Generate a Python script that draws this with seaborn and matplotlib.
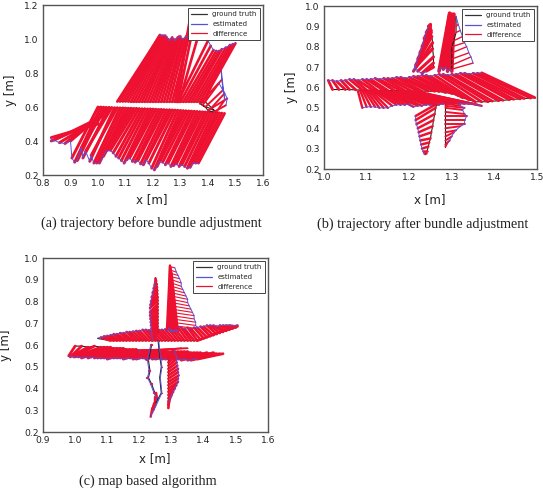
import matplotlib
matplotlib.use('Agg')
import matplotlib.pyplot as plt
from matplotlib.transforms import ScaledTranslation
import pandas as pd
import seaborn as sns

W, H = 543, 490
RED = '#ee1030'
BLUE = '#5a50d8'

# panel (a): wing + lower block, right cluster, upper block
a_gt_x = [1.00, 1.00, 1.01, 1.02, 1.02, 1.03,
          1.00, 1.01, 1.02, 1.03, 1.04, 1.05, 1.06, 1.07, 1.08, 1.09,
          1.10, 1.11, 1.12, 1.13, 1.14, 1.15, 1.16, 1.17, 1.18, 1.19,
          1.20, 1.21, 1.22, 1.23, 1.24, 1.25, 1.26, 1.27, 1.28, 1.29,
          1.30, 1.31, 1.32, 1.33, 1.34, 1.35, 1.36, 1.37, 1.38, 1.39,
          1.40, 1.41, 1.42, 1.43, 1.44, 1.45, 1.46,
          1.42, 1.40, 1.39, 1.37, 1.39, 1.43, 1.41, 1.38,
          1.38, 1.37, 1.36, 1.35, 1.34, 1.33, 1.32, 1.31, 1.30, 1.29,
          1.295, 1.29, 1.285, 1.28, 1.27, 1.26, 1.25, 1.24, 1.23, 1.22,
          1.21, 1.20, 1.19, 1.18, 1.17, 1.16, 1.15, 1.14, 1.13, 1.12,
          1.11, 1.10, 1.09, 1.08, 1.07]
a_gt_y = [.50, .52, .54, .55, .57, .58,
          .600, .600, .599, .598, .598, .597, .596, .596, .595, .595,
          .594, .593, .593, .592, .592, .591, .590, .590, .589, .589,
          .588, .587, .586, .586, .585, .584, .584, .583, .582, .581,
          .580, .579, .578, .577, .576, .575, .574, .573, .572, .571,
          .570, .569, .568, .567, .566, .564, .562,
          .57, .58, .60, .62, .63, .57, .59, .61,
          .63, .63, .63, .63, .63, .63, .63, .63, .63, .63,
          .63, .63, .63, .63, .63, .63, .63, .63, .63, .63,
          .63, .63, .63, .63, .63, .63, .63, .63, .63, .63,
          .632, .632, .632, .632, .632]
a_est_x = [.83, .83, .84, .86, .88, .90,
           .905, .915, .925, .94, .945, .955, .97, .975, .985, .995,
           1.005, 1.02, 1.025, 1.035, 1.045, 1.055, 1.065, 1.075, 1.085, 1.095,
           1.105, 1.115, 1.125, 1.135, 1.145, 1.155, 1.165, 1.175, 1.185, 1.195,
           1.205, 1.215, 1.225, 1.235, 1.245, 1.255, 1.265, 1.275, 1.285, 1.295,
           1.305, 1.315, 1.325, 1.335, 1.345, 1.355, 1.365,
           1.465, 1.47, 1.455, 1.45, 1.445, 1.46, 1.46, 1.44,
           1.50, 1.49, 1.48, 1.465, 1.45, 1.44, 1.43, 1.42, 1.41, 1.40,
           1.37, 1.35, 1.34, 1.335, 1.33, 1.32, 1.31, 1.305, 1.30, 1.295,
           1.29, 1.285, 1.28, 1.275, 1.27, 1.265, 1.26, 1.255, 1.25, 1.245,
           1.24, 1.235, 1.23, 1.225, 1.225]
a_est_y = [.42, .40, .405, .39, .385, .40,
           .30, .275, .285, .36, .30, .34, .28, .315, .27, .27,
           .27, .31, .33, .345, .345, .33, .31, .30, .285, .27,
           .29, .30, .28, .275, .285, .265, .26, .29, .27, .24,
           .23, .25, .28, .275, .26, .27, .25, .255, .265, .25,
           .26, .25, .24, .245, .27, .27, .27,
           .61, .65, .70, .76, .87, .64, .68, .74,
           .975, .97, .965, .95, .94, .93, .93, .935, .96, .99,
           1.05, 1.10, 1.15, 1.12, 1.01, 1.015, 1.00, 1.00, 1.015, 1.015,
           1.01, 1.00, .99, 1.00, 1.01, 1.00, .99, 1.00, 1.01, 1.02,
           1.02, 1.02, 1.02, 1.024, 1.02]
a_sections = [(53, 2.1), (8, 1.4), (35, 1.9)]

# panel (b): top of band, bottom of band, then the four spikes
b_gt_x = [1.02, 1.035, 1.05, 1.06, 1.075, 1.09, 1.10, 1.115, 1.125, 1.14,
          1.15, 1.165, 1.18, 1.19, 1.205, 1.22, 1.23, 1.245, 1.26, 1.27,
          1.285, 1.30, 1.315, 1.325, 1.34, 1.355, 1.37, 1.385, 1.395, 1.41,
          1.42, 1.435, 1.445, 1.46, 1.47, 1.485, 1.495,
          1.08, 1.085, 1.09, 1.095, 1.10, 1.105, 1.11, 1.115, 1.12, 1.125,
          1.13, 1.135, 1.14, 1.145, 1.15, 1.155, 1.16, 1.165, 1.17, 1.175,
          1.18, 1.185, 1.19, 1.195, 1.20, 1.205, 1.21, 1.215, 1.22,
          1.25, 1.25, 1.25, 1.25, 1.252, 1.252, 1.253, 1.255, 1.255, 1.257, 1.257, 1.257,
          1.295, 1.295, 1.295, 1.30, 1.30, 1.305, 1.305, 1.31, 1.31, 1.31, 1.305, 1.30, 1.30, 1.30, 1.30, 1.30,
          1.265, 1.262, 1.26, 1.257, 1.255, 1.252, 1.25, 1.247, 1.245, 1.242, 1.24, 1.238,
          1.285, 1.285, 1.285, 1.285, 1.285, 1.285, 1.285, 1.285, 1.285, 1.285, 1.285, 1.285, 1.285, 1.285]
b_gt_y = [.59, .59, .59, .59, .588, .588, .587, .587, .586, .586,
          .585, .585, .584, .584, .583, .583, .582, .582, .581, .58,
          .575, .57, .56, .55, .54, .53, .53, .53, .533, .535,
          .537, .54, .542, .544, .546, .548, .55,
          .58, .585, .585, .585, .585, .585, .585, .584, .584, .584,
          .584, .583, .583, .582, .582, .581, .581, .58, .58, .58,
          .58, .58, .58, .58, .58, .58, .58, .58, .58,
          .91, .905, .90, .89, .88, .87, .85, .82, .79, .75, .72, .70,
          .965, .96, .95, .94, .96, .96, .94, .95, .90, .87, .83, .80, .77, .74, .71, .69,
          .52, .50, .47, .44, .41, .38, .35, .33, .31, .29, .28, .27,
          .31, .32, .34, .36, .38, .40, .42, .44, .46, .48, .50, .51, .52, .53]
b_est_x = [1.01, 1.02, 1.03, 1.04, 1.05, 1.06, 1.07, 1.08, 1.09, 1.10,
           1.11, 1.12, 1.13, 1.14, 1.15, 1.16, 1.17, 1.18, 1.19, 1.20,
           1.21, 1.22, 1.23, 1.24, 1.25, 1.26, 1.27, 1.28, 1.29, 1.30,
           1.31, 1.32, 1.33, 1.34, 1.35, 1.36, 1.37,
           1.09, 1.10, 1.11, 1.12, 1.13, 1.14, 1.15, 1.16, 1.17, 1.18,
           1.19, 1.20, 1.21, 1.22, 1.23, 1.24, 1.25, 1.26, 1.27, 1.28,
           1.29, 1.30, 1.31, 1.32, 1.33, 1.34, 1.35, 1.36, 1.37,
           1.245, 1.24, 1.235, 1.23, 1.225, 1.22, 1.215, 1.21, 1.215, 1.22, 1.23, 1.24,
           1.27, 1.275, 1.28, 1.285, 1.29, 1.295, 1.30, 1.31, 1.315, 1.32, 1.325, 1.33, 1.335, 1.34, 1.345, 1.35,
           1.215, 1.215, 1.217, 1.22, 1.222, 1.224, 1.226, 1.228, 1.23, 1.232, 1.234, 1.236,
           1.29, 1.295, 1.30, 1.305, 1.31, 1.32, 1.33, 1.33, 1.335, 1.33, 1.325, 1.33, 1.32, 1.315]
b_est_y = [.635, .635, .63, .635, .635, .64, .64, .635, .64, .64,
           .64, .645, .64, .645, .645, .645, .65, .65, .645, .65,
           .655, .655, .66, .66, .655, .66, .665, .665, .66, .665,
           .665, .67, .67, .665, .67, .67, .672,
           .50, .505, .505, .505, .50, .50, .50, .51, .515, .515,
           .515, .52, .505, .51, .51, .515, .515, .513, .515, .52,
           .52, .52, .525, .52, .52, .52, .52, .515, .51,
           .90, .87, .84, .80, .77, .74, .71, .68, .70, .68, .67, .68,
           .68, .70, .69, .70, .68, .69, .68, .95, .91, .88, .85, .82, .80, .77, .75, .72,
           .46, .44, .42, .40, .38, .36, .34, .32, .30, .29, .28, .27,
           .33, .34, .36, .38, .39, .41, .42, .44, .46, .47, .49, .50, .51, .52]
b_sections = [(37, 2.0), (29, 1.7), (12, 2.2), (7, 2.6), (9, 1.0), (12, 1.8), (14, 1.4)]

# panel (c): lower wedge, thin spike, upper wedge, left arm, its thin part, right arm
c_gt_x = [1.00, 1.02, 1.04, 1.06, 1.08, 1.09, 1.10, 1.11, 1.12, 1.13, 1.14,
          1.15, 1.16, 1.17, 1.18, 1.19, 1.20, 1.21, 1.22, 1.23, 1.24, 1.25,
          1.26, 1.27, 1.28, 1.29, 1.30, 1.31, 1.32, 1.33, 1.34, 1.35, 1.36,
          1.37, 1.38, 1.39, 1.40, 1.41, 1.42, 1.43, 1.44, 1.45, 1.46,
          1.35, 1.33, 1.30,
          1.07, 1.11, 1.12, 1.13, 1.14, 1.15, 1.16, 1.17, 1.18, 1.19, 1.20, 1.21,
          1.22, 1.23, 1.24, 1.25, 1.26, 1.27, 1.28, 1.29, 1.30, 1.31, 1.32, 1.33,
          1.34, 1.35, 1.36, 1.37, 1.38, 1.39, 1.40, 1.41, 1.42, 1.43, 1.44, 1.45,
          1.46, 1.47, 1.48, 1.49, 1.50, 1.50, 1.505, 1.38,
          1.25, 1.252, 1.254, 1.255, 1.256, 1.256, 1.257, 1.257, 1.257, 1.257,
          1.257, 1.257, 1.257, 1.257, 1.257, 1.257, 1.257, 1.257,
          1.238, 1.228, 1.233, 1.228, 1.238, 1.248, 1.252, 1.25, 1.245, 1.24,
          1.25, 1.268, 1.263, 1.268, 1.263, 1.258,
          1.295, 1.295, 1.295, 1.295, 1.30, 1.30, 1.30, 1.30, 1.30, 1.30,
          1.30, 1.30, 1.30, 1.30, 1.30, 1.30, 1.30, 1.30, 1.30,
          1.295, 1.295, 1.296, 1.296, 1.297, 1.297, 1.298, 1.298, 1.30, 1.30,
          1.29, 1.29, 1.29, 1.29, 1.29, 1.29, 1.29, 1.29, 1.29, 1.29, 1.29,
          1.29, 1.29, 1.29, 1.29, 1.29, 1.29]
c_gt_y = [.595, .595, .59, .595, .59, .59, .59, .59, .585, .585, .585,
          .585, .58, .58, .58, .58, .575, .575, .575, .575, .575, .575,
          .575, .575, .575, .57, .57, .57, .57, .57, .57, .57, .565,
          .565, .565, .565, .56, .565, .56, .565, .56, .56, .56,
          .585, .585, .58,
          .63, .62, .62, .62, .62, .62, .62, .62, .62, .62, .62, .62,
          .62, .62, .62, .62, .62, .62, .62, .62, .62, .62, .62, .62,
          .62, .62, .62, .62, .62, .625, .63, .635, .64, .645, .65, .655,
          .66, .665, .67, .675, .68, .685, .688, .62,
          .91, .895, .88, .865, .85, .835, .82, .805, .79, .775,
          .76, .745, .73, .715, .70, .685, .67, .655,
          .60, .53, .48, .45, .42, .38, .38, .36, .33, .31,
          .33, .38, .45, .50, .55, .62,
          .96, .945, .93, .915, .90, .885, .87, .855, .84, .825,
          .81, .795, .78, .765, .75, .735, .72, .705, .69,
          .965, .965, .96, .96, .95, .95, .94, .94, .93, .93,
          .31, .325, .34, .355, .37, .385, .40, .415, .43, .445, .46,
          .475, .49, .505, .52, .535, .55]
c_est_x = [.98, .985, .99, .995, 1.00, 1.01, 1.02, 1.03, 1.04, 1.05, 1.06,
           1.07, 1.08, 1.09, 1.10, 1.11, 1.12, 1.13, 1.14, 1.15, 1.16, 1.17,
           1.18, 1.19, 1.20, 1.21, 1.22, 1.23, 1.24, 1.25, 1.26, 1.27, 1.28,
           1.29, 1.30, 1.31, 1.32, 1.33, 1.34, 1.35, 1.36, 1.37, 1.38,
           1.20, 1.20, 1.20,
           1.07, 1.08, 1.09, 1.10, 1.11, 1.12, 1.13, 1.14, 1.15, 1.16, 1.17, 1.18,
           1.19, 1.20, 1.21, 1.22, 1.23, 1.24, 1.25, 1.26, 1.27, 1.28, 1.29, 1.30,
           1.31, 1.32, 1.33, 1.34, 1.35, 1.36, 1.37, 1.38, 1.39, 1.40, 1.41, 1.42,
           1.43, 1.44, 1.45, 1.46, 1.47, 1.48, 1.49, 1.505,
           1.25, 1.247, 1.244, 1.241, 1.238, 1.236, 1.234, 1.233, 1.233, 1.233,
           1.234, 1.235, 1.236, 1.237, 1.238, 1.239, 1.24, 1.24,
           1.235, 1.225, 1.23, 1.225, 1.235, 1.245, 1.255, 1.25, 1.24, 1.235,
           1.245, 1.27, 1.265, 1.27, 1.265, 1.26,
           1.31, 1.315, 1.32, 1.325, 1.33, 1.33, 1.335, 1.34, 1.345, 1.35,
           1.35, 1.355, 1.36, 1.365, 1.37, 1.37, 1.375, 1.375, 1.38,
           1.285, 1.29, 1.293, 1.297, 1.30, 1.304, 1.308, 1.312, 1.316, 1.32,
           1.292, 1.295, 1.30, 1.305, 1.31, 1.315, 1.32, 1.32, 1.322, 1.32, 1.32,
           1.318, 1.316, 1.315, 1.315, 1.31, 1.31]
c_est_y = [.55, .545, .55, .545, .545, .545, .54, .545, .54, .545, .54,
           .54, .54, .54, .535, .54, .54, .54, .54, .535, .54, .54,
           .535, .535, .54, .54, .535, .54, .535, .535, .54, .535, .535,
           .535, .54, .535, .535, .53, .535, .53, .53, .535, .535,
           .575, .57, .575,
           .632, .635, .64, .642, .645, .65, .65, .655, .655, .66, .66, .662,
           .665, .665, .67, .67, .668, .67, .672, .67, .67, .672, .675, .675,
           .675, .68, .68, .675, .68, .675, .68, .68, .685, .685, .69, .69,
           .69, .685, .69, .69, .69, .69, .688, .69,
           .89, .875, .86, .84, .82, .80, .785, .77, .75, .735,
           .72, .705, .69, .675, .66, .645, .63, .62,
           .60, .53, .48, .45, .42, .38, .35, .32, .29, .27,
           .30, .38, .45, .50, .55, .62,
           .955, .935, .92, .905, .885, .87, .855, .84, .825, .81,
           .795, .78, .765, .75, .735, .72, .705, .69, .675,
           .66, .67, .68, .66, .67, .66, .67, .66, .67, .66,
           .34, .355, .37, .385, .40, .415, .43, .445, .46, .475, .49,
           .505, .52, .535, .55, .565, .58]
c_sections = [(43, 2.0), (3, 1.2), (44, 1.9), (18, 1.9), (10, 1.7), (6, 0.9), (19, 0.8), (10, 1.6), (17, 1.9)]

legend_labels = ['ground truth', 'estimated', 'difference']


def draw_panel(box, gt_x, gt_y, est_x, est_y, sections, xlim, ylim, xticks, yticks,
               caption, caption_x, caption_y, xlabel_pos, ylabel_x):
    left, top, right, bottom = box
    fig = plt.gcf()
    ax = fig.add_axes([left / W, 1 - bottom / H, (right - left) / W, (bottom - top) / H])

    # drawn section by section so the paths do not jump across the plot
    start = 0
    for n, lw in sections:
        i = range(start, start + n)
        sns.lineplot(x=[gt_x[k] for k in i], y=[gt_y[k] for k in i], sort=False, estimator=None,
                     color='#222222', lw=0.8, ax=ax)
        # each difference segment joins a ground truth point to its estimate
        diff = pd.DataFrame({'seg': list(i) * 2,
                             'x': [gt_x[k] for k in i] + [est_x[k] for k in i],
                             'y': [gt_y[k] for k in i] + [est_y[k] for k in i]})
        sns.lineplot(data=diff, x='x', y='y', units='seg', sort=False, estimator=None, color=RED, lw=lw, ax=ax)
        sns.lineplot(x=[est_x[k] for k in i], y=[est_y[k] for k in i], sort=False, estimator=None,
                     color=BLUE, lw=0.7, ax=ax)
        start += n

    ax.set_xlim(*xlim)
    ax.set_ylim(*ylim)
    ax.set_xticks(xticks)
    ax.set_yticks(yticks)
    ax.set_xticklabels(['%.1f' % t for t in xticks])
    ax.set_yticklabels(['%.1f' % t for t in yticks])
    ax.tick_params(direction='in', length=2.5, width=0.6, labelsize=6.6, pad=3, color='#444444', labelcolor='#222222')
    ax.set_xlabel('')
    ax.set_ylabel('y [m]', fontsize=8.6, color='#222222')
    # label coords give the right edge of the rotated text
    ax.yaxis.set_label_coords((ylabel_x + 5 - left) / (right - left), 0.5)
    for s in ax.spines.values():
        s.set_color('#555555')
        s.set_linewidth(1.0)

    handles = [plt.Line2D([], [], color=c, lw=0.9) for c in ['#333333', BLUE, RED]]
    leg = ax.legend(handles, legend_labels, loc='upper right', fontsize=5.0, frameon=True, fancybox=False,
                    edgecolor='#444444', framealpha=1, borderaxespad=0.5, labelspacing=0.55, handlelength=2.3)
    leg.get_frame().set_linewidth(0.7)
    leg.set_zorder(10)

    fig.text(xlabel_pos[0] / W, 1 - xlabel_pos[1] / H, 'x [m]', fontsize=8.6, ha='center', va='center', color='#222222')
    fig.text(caption_x / W, 1 - caption_y / H, caption, fontsize=10.2, ha='center', va='center',
             family='Liberation Serif', color='#222222')
    return ax


sns.set_style('white')
fig = plt.figure(figsize=(W / 100, H / 100), dpi=100)

draw_panel((43, 5, 263, 175), a_gt_x, a_gt_y, a_est_x, a_est_y, a_sections, (0.8, 1.6), (0.2, 1.2),
           [.8, .9, 1.0, 1.1, 1.2, 1.3, 1.4, 1.5, 1.6], [.2, .4, .6, .8, 1.0, 1.2],
           '(a) trajectory before bundle adjustment', 151, 223, (152, 200), 12)
ax_b = draw_panel((324, 6, 537, 169), b_gt_x, b_gt_y, b_est_x, b_est_y, b_sections, (1.0, 1.5), (0.2, 1.0),
                  [1.0, 1.1, 1.2, 1.3, 1.4, 1.5], [.2, .3, .4, .5, .6, .7, .8, .9, 1.0],
                  '(b) trajectory after bundle adjustment', 422.5, 224, (430, 200), 293)
draw_panel((43, 258, 268, 432), c_gt_x, c_gt_y, c_est_x, c_est_y, c_sections, (0.9, 1.6), (0.2, 1.0),
           [.9, 1.0, 1.1, 1.2, 1.3, 1.4, 1.5, 1.6], [.2, .3, .4, .5, .6, .7, .8, .9, 1.0],
           '(c) map based algorithm', 147.5, 481, (155, 459), 7)

# last tick label of (b) sits at the picture edge, nudge it in
last = ax_b.get_xticklabels()[-1]
last.set_ha('right')
last.set_transform(last.get_transform() + ScaledTranslation(5 / 72, 0, fig.dpi_scale_trans))

fig.savefig('out.png', dpi=100)
